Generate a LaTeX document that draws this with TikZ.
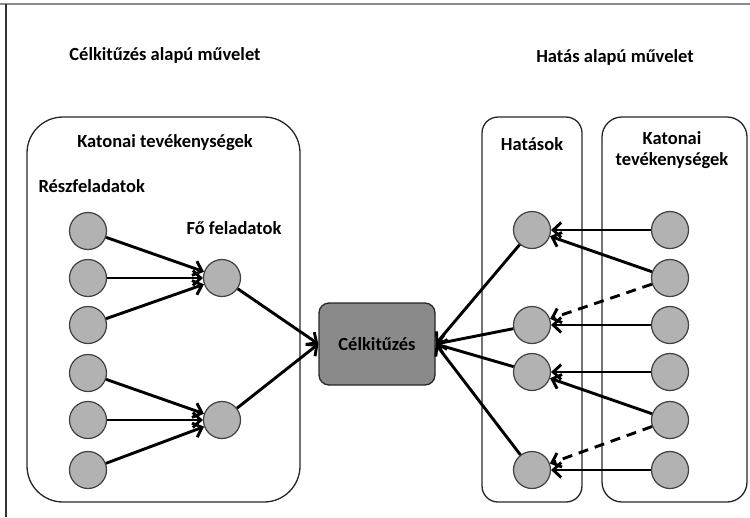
\documentclass[tikz,border=0pt]{standalone}
\usepackage{fontspec}
\setmainfont{Carlito}
\usetikzlibrary{arrows.meta}

\tikzset{
  dot/.style={circle,draw=black!75,fill=black!30,line width=1.2pt,minimum size=37pt,inner sep=0pt},
  frame/.style={draw=black!85,line width=1.3pt},
  link/.style={line width=2.9pt,-{Straight Barb[length=8pt,width=15pt]}},
  lbl/.style={font=\fontsize{18.5}{21}\selectfont\bfseries},
}

\begin{document}
\begin{tikzpicture}[x=1pt,y=-1pt]
      \useasboundingbox (0,0) rectangle (750,517);
      %page edge
      \draw[black!45,line width=2.5pt] (0,4) -- (750,4);
      \draw[black!80,line width=1.5pt] (6,4) -- (6,517);
      %frames
      \draw[frame,rounded corners=36pt] (27,117) rectangle (300,502);
      \draw[frame,rounded corners=16pt] (482,117) rectangle (582,502);
      \draw[frame,rounded corners=20pt] (602,117) rectangle (747,502);
      %titles
      \node[lbl] (titleA) at (165,55) {Célkitűzés alapú művelet};
      \node[lbl] (titleB) at (615,57) {Hatás alapú művelet};
      \node[lbl] (katA) at (165,143) {Katonai tevékenységek};
      \node[lbl,anchor=west] (resz) at (35,186) {Részfeladatok};
      \node[lbl] (fo) at (234,228) {Fő feladatok};
      \node[lbl] (hatasok) at (532,144) {Hatások};
      \node[lbl,align=center] (katB) at (672,150) {Katonai\\tevékenységek};
      %goal
      \node[draw=black!85,fill=black!46,line width=1.3pt,rounded corners=10pt,
            minimum width=116pt,minimum height=82pt,lbl] (cel) at (377,344) {Célkitűzés};
      %circles
      \node[dot] (L1) at (88,231) {};
      \node[dot] (L2) at (88,278) {};
      \node[dot] (L3) at (88,325) {};
      \node[dot] (L4) at (88,373) {};
      \node[dot] (L5) at (88,420) {};
      \node[dot] (L6) at (88,470) {};
      \node[dot] (F1) at (222,278) {};
      \node[dot] (F2) at (222,420) {};
      \node[dot] (H1) at (532,230) {};
      \node[dot] (H2) at (532,325) {};
      \node[dot] (H3) at (532,372) {};
      \node[dot] (H4) at (532,470) {};
      \node[dot] (R1) at (670,230) {};
      \node[dot] (R2) at (670,278) {};
      \node[dot] (R3) at (670,325) {};
      \node[dot] (R4) at (670,372) {};
      \node[dot] (R5) at (670,420) {};
      \node[dot] (R6) at (670,470) {};
      %left side
      \foreach \a in {L1,L2,L3} \draw[link] (\a) -- (F1);
      \foreach \a in {L4,L5,L6} \draw[link] (\a) -- (F2);
      \draw[link] (F1) -- (cel.west);
      \draw[link] (F2) -- (cel.west);
      %right side
      \foreach \a in {H1,H2,H3,H4} \draw[link] (\a) -- (cel.east);
      \draw[link] (R1) -- (H1);
      \draw[link] (R2) -- (H1);
      \draw[link,dash pattern=on 10pt off 7pt] (R2) -- (H2);
      \draw[link] (R3) -- (H2);
      \draw[link] (R4) -- (H3);
      \draw[link] (R5) -- (H3);
      \draw[link,dash pattern=on 10pt off 7pt] (R5) -- (H4);
      \draw[link] (R6) -- (H4);
\end{tikzpicture}
\end{document}
